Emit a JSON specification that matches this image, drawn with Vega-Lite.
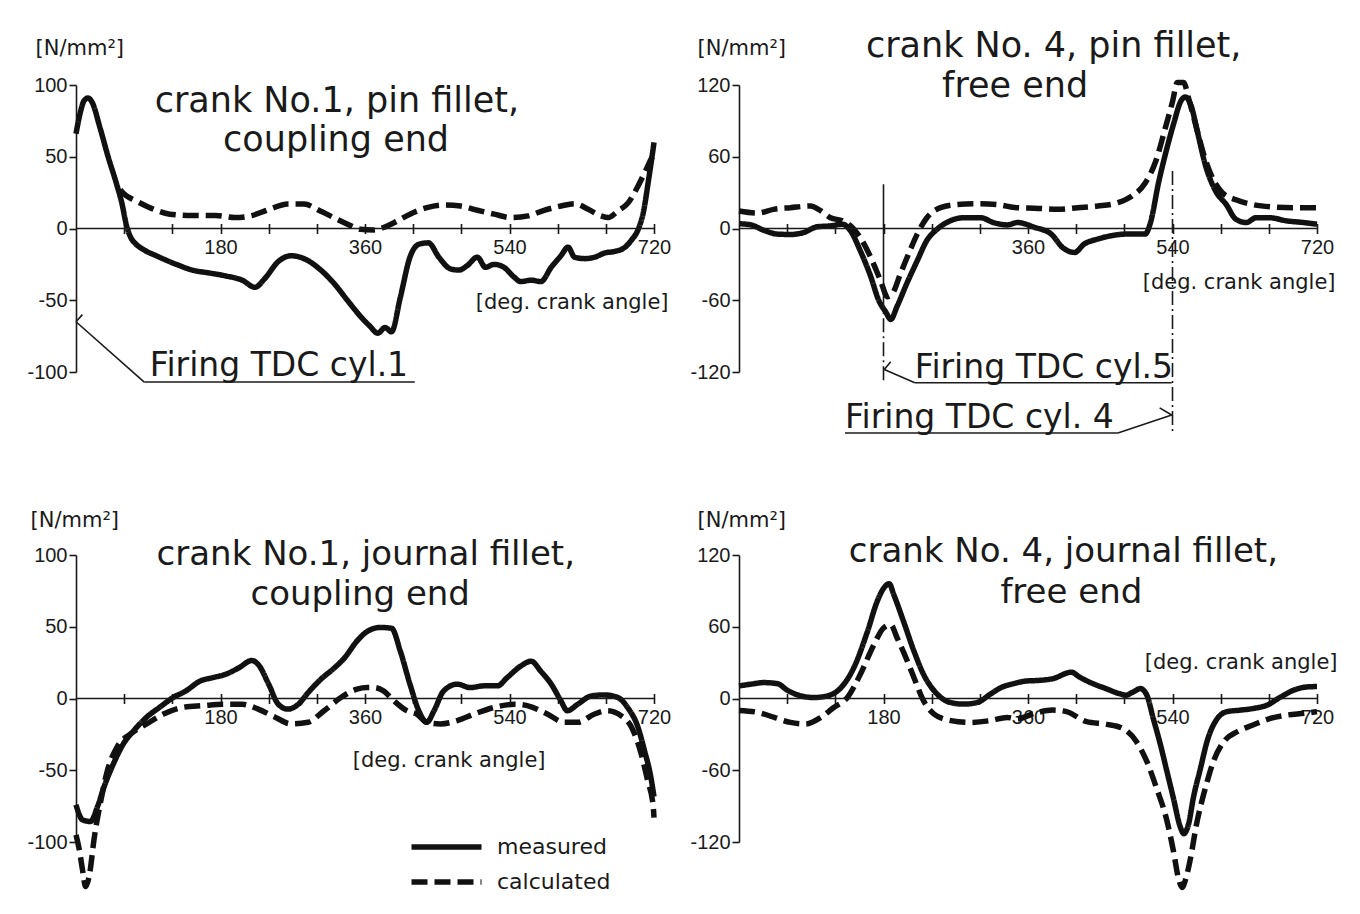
{
  "$schema": "https://vega.github.io/schema/vega-lite/v6.json",
  "background": "white",
  "autosize": {"type": "none"},
  "padding": {"left": 76, "top": 85, "right": 1284, "bottom": 829},
  "columns": 2,
  "spacing": {"row": 183, "column": 85},
  "bounds": "flush",
  "resolve": {"scale": {"strokeDash": "independent"}},
  "datasets": {
    "stress": [
      {"panel":"c1pin","series":"measured","angle":0,"stress":66},{"panel":"c1pin","series":"measured","angle":5,"stress":80},{"panel":"c1pin","series":"measured","angle":10,"stress":89},{"panel":"c1pin","series":"measured","angle":15,"stress":91},{"panel":"c1pin","series":"measured","angle":20,"stress":88},{"panel":"c1pin","series":"measured","angle":30,"stress":70},{"panel":"c1pin","series":"measured","angle":40,"stress":50},{"panel":"c1pin","series":"measured","angle":50,"stress":32},{"panel":"c1pin","series":"measured","angle":57,"stress":18},{"panel":"c1pin","series":"measured","angle":63,"stress":2},{"panel":"c1pin","series":"measured","angle":68,"stress":-6},{"panel":"c1pin","series":"measured","angle":75,"stress":-11},{"panel":"c1pin","series":"measured","angle":85,"stress":-15},{"panel":"c1pin","series":"measured","angle":100,"stress":-19},{"panel":"c1pin","series":"measured","angle":125,"stress":-25},{"panel":"c1pin","series":"measured","angle":145,"stress":-29},{"panel":"c1pin","series":"measured","angle":166,"stress":-31},{"panel":"c1pin","series":"measured","angle":186,"stress":-33},{"panel":"c1pin","series":"measured","angle":207,"stress":-36},{"panel":"c1pin","series":"measured","angle":223,"stress":-41},{"panel":"c1pin","series":"measured","angle":235,"stress":-35},{"panel":"c1pin","series":"measured","angle":252,"stress":-23},{"panel":"c1pin","series":"measured","angle":268,"stress":-19},{"panel":"c1pin","series":"measured","angle":284,"stress":-21},{"panel":"c1pin","series":"measured","angle":305,"stress":-29},{"panel":"c1pin","series":"measured","angle":321,"stress":-38},{"panel":"c1pin","series":"measured","angle":338,"stress":-50},{"panel":"c1pin","series":"measured","angle":354,"stress":-61},{"panel":"c1pin","series":"measured","angle":366,"stress":-68},{"panel":"c1pin","series":"measured","angle":376,"stress":-73},{"panel":"c1pin","series":"measured","angle":385,"stress":-69},{"panel":"c1pin","series":"measured","angle":393,"stress":-72},{"panel":"c1pin","series":"measured","angle":404,"stress":-48},{"panel":"c1pin","series":"measured","angle":416,"stress":-20},{"panel":"c1pin","series":"measured","angle":427,"stress":-11},{"panel":"c1pin","series":"measured","angle":439,"stress":-10},{"panel":"c1pin","series":"measured","angle":452,"stress":-20},{"panel":"c1pin","series":"measured","angle":466,"stress":-28},{"panel":"c1pin","series":"measured","angle":477,"stress":-29},{"panel":"c1pin","series":"measured","angle":487,"stress":-26},{"panel":"c1pin","series":"measured","angle":500,"stress":-20},{"panel":"c1pin","series":"measured","angle":510,"stress":-27},{"panel":"c1pin","series":"measured","angle":521,"stress":-25},{"panel":"c1pin","series":"measured","angle":533,"stress":-27},{"panel":"c1pin","series":"measured","angle":546,"stress":-34},{"panel":"c1pin","series":"measured","angle":554,"stress":-37},{"panel":"c1pin","series":"measured","angle":567,"stress":-36},{"panel":"c1pin","series":"measured","angle":579,"stress":-37},{"panel":"c1pin","series":"measured","angle":592,"stress":-27},{"panel":"c1pin","series":"measured","angle":604,"stress":-19},{"panel":"c1pin","series":"measured","angle":613,"stress":-13},{"panel":"c1pin","series":"measured","angle":621,"stress":-20},{"panel":"c1pin","series":"measured","angle":634,"stress":-21},{"panel":"c1pin","series":"measured","angle":646,"stress":-20},{"panel":"c1pin","series":"measured","angle":659,"stress":-17},{"panel":"c1pin","series":"measured","angle":671,"stress":-16},{"panel":"c1pin","series":"measured","angle":684,"stress":-13},{"panel":"c1pin","series":"measured","angle":692,"stress":-8},{"panel":"c1pin","series":"measured","angle":700,"stress":-1},{"panel":"c1pin","series":"measured","angle":707,"stress":12},{"panel":"c1pin","series":"measured","angle":713,"stress":33},{"panel":"c1pin","series":"measured","angle":717,"stress":48},{"panel":"c1pin","series":"measured","angle":720,"stress":60},
      {"panel":"c1pin","series":"calculated","angle":55,"stress":27},{"panel":"c1pin","series":"calculated","angle":62,"stress":23},{"panel":"c1pin","series":"calculated","angle":72,"stress":20},{"panel":"c1pin","series":"calculated","angle":92,"stress":14.5},{"panel":"c1pin","series":"calculated","angle":117,"stress":10},{"panel":"c1pin","series":"calculated","angle":145,"stress":9},{"panel":"c1pin","series":"calculated","angle":174,"stress":9},{"panel":"c1pin","series":"calculated","angle":198,"stress":7.6},{"panel":"c1pin","series":"calculated","angle":219,"stress":9},{"panel":"c1pin","series":"calculated","angle":239,"stress":13},{"panel":"c1pin","series":"calculated","angle":264,"stress":17},{"panel":"c1pin","series":"calculated","angle":284,"stress":17},{"panel":"c1pin","series":"calculated","angle":305,"stress":12},{"panel":"c1pin","series":"calculated","angle":325,"stress":6.5},{"panel":"c1pin","series":"calculated","angle":342,"stress":2},{"panel":"c1pin","series":"calculated","angle":354,"stress":-0.5},{"panel":"c1pin","series":"calculated","angle":371,"stress":-1},{"panel":"c1pin","series":"calculated","angle":383,"stress":0.7},{"panel":"c1pin","series":"calculated","angle":396,"stress":4},{"panel":"c1pin","series":"calculated","angle":416,"stress":10},{"panel":"c1pin","series":"calculated","angle":437,"stress":14.5},{"panel":"c1pin","series":"calculated","angle":458,"stress":16.4},{"panel":"c1pin","series":"calculated","angle":479,"stress":15.7},{"panel":"c1pin","series":"calculated","angle":500,"stress":12.7},{"panel":"c1pin","series":"calculated","angle":521,"stress":10},{"panel":"c1pin","series":"calculated","angle":542,"stress":7.6},{"panel":"c1pin","series":"calculated","angle":563,"stress":8.8},{"panel":"c1pin","series":"calculated","angle":583,"stress":12.7},{"panel":"c1pin","series":"calculated","angle":604,"stress":15.7},{"panel":"c1pin","series":"calculated","angle":621,"stress":17.3},{"panel":"c1pin","series":"calculated","angle":638,"stress":13.4},{"panel":"c1pin","series":"calculated","angle":654,"stress":8.8},{"panel":"c1pin","series":"calculated","angle":663,"stress":7.6},{"panel":"c1pin","series":"calculated","angle":675,"stress":12.2},{"panel":"c1pin","series":"calculated","angle":688,"stress":18},{"panel":"c1pin","series":"calculated","angle":700,"stress":29.5},{"panel":"c1pin","series":"calculated","angle":711,"stress":42},{"panel":"c1pin","series":"calculated","angle":717,"stress":49},{"panel":"c1pin","series":"calculated","angle":720,"stress":51},

      {"panel":"c4pin","series":"measured","angle":0,"stress":4},{"panel":"c4pin","series":"measured","angle":15,"stress":3},{"panel":"c4pin","series":"measured","angle":31,"stress":-1.5},{"panel":"c4pin","series":"measured","angle":48,"stress":-4.7},{"panel":"c4pin","series":"measured","angle":64,"stress":-5},{"panel":"c4pin","series":"measured","angle":81,"stress":-3.3},{"panel":"c4pin","series":"measured","angle":97,"stress":1.4},{"panel":"c4pin","series":"measured","angle":114,"stress":2.2},{"panel":"c4pin","series":"measured","angle":129,"stress":3.6},{"panel":"c4pin","series":"measured","angle":139,"stress":-2},{"panel":"c4pin","series":"measured","angle":151,"stress":-18.5},{"panel":"c4pin","series":"measured","angle":164,"stress":-40},{"panel":"c4pin","series":"measured","angle":174,"stress":-60},{"panel":"c4pin","series":"measured","angle":183,"stress":-70},{"panel":"c4pin","series":"measured","angle":189,"stress":-76},{"panel":"c4pin","series":"measured","angle":197,"stress":-65},{"panel":"c4pin","series":"measured","angle":209,"stress":-46},{"panel":"c4pin","series":"measured","angle":222,"stress":-27},{"panel":"c4pin","series":"measured","angle":234,"stress":-10},{"panel":"c4pin","series":"measured","angle":247,"stress":-0.5},{"panel":"c4pin","series":"measured","angle":263,"stress":6.4},{"panel":"c4pin","series":"measured","angle":280,"stress":9},{"panel":"c4pin","series":"measured","angle":301,"stress":9},{"panel":"c4pin","series":"measured","angle":317,"stress":5},{"panel":"c4pin","series":"measured","angle":334,"stress":3},{"panel":"c4pin","series":"measured","angle":347,"stress":5},{"panel":"c4pin","series":"measured","angle":368,"stress":1},{"panel":"c4pin","series":"measured","angle":389,"stress":-4.7},{"panel":"c4pin","series":"measured","angle":403,"stress":-15.8},{"panel":"c4pin","series":"measured","angle":418,"stress":-20},{"panel":"c4pin","series":"measured","angle":430,"stress":-13},{"panel":"c4pin","series":"measured","angle":447,"stress":-8.8},{"panel":"c4pin","series":"measured","angle":464,"stress":-6},{"panel":"c4pin","series":"measured","angle":481,"stress":-4.7},{"panel":"c4pin","series":"measured","angle":506,"stress":-4.7},{"panel":"c4pin","series":"measured","angle":512,"stress":3.6},{"panel":"c4pin","series":"measured","angle":523,"stress":39.5},{"panel":"c4pin","series":"measured","angle":533,"stress":67},{"panel":"c4pin","series":"measured","angle":542,"stress":89},{"panel":"c4pin","series":"measured","angle":550,"stress":106},{"panel":"c4pin","series":"measured","angle":556,"stress":110},{"panel":"c4pin","series":"measured","angle":563,"stress":103},{"panel":"c4pin","series":"measured","angle":571,"stress":81},{"panel":"c4pin","series":"measured","angle":581,"stress":53},{"panel":"c4pin","series":"measured","angle":594,"stress":31},{"panel":"c4pin","series":"measured","angle":607,"stress":20},{"panel":"c4pin","series":"measured","angle":619,"stress":7.7},{"panel":"c4pin","series":"measured","angle":632,"stress":5},{"panel":"c4pin","series":"measured","angle":644,"stress":9},{"panel":"c4pin","series":"measured","angle":661,"stress":9},{"panel":"c4pin","series":"measured","angle":682,"stress":6.4},{"panel":"c4pin","series":"measured","angle":703,"stress":5},{"panel":"c4pin","series":"measured","angle":720,"stress":3.6},
      {"panel":"c4pin","series":"calculated","angle":0,"stress":14.7},{"panel":"c4pin","series":"calculated","angle":23,"stress":13},{"panel":"c4pin","series":"calculated","angle":43,"stress":16},{"panel":"c4pin","series":"calculated","angle":64,"stress":17.4},{"panel":"c4pin","series":"calculated","angle":89,"stress":18.8},{"panel":"c4pin","series":"calculated","angle":102,"stress":14.7},{"panel":"c4pin","series":"calculated","angle":114,"stress":9},{"panel":"c4pin","series":"calculated","angle":129,"stress":6.4},{"panel":"c4pin","series":"calculated","angle":139,"stress":2.2},{"panel":"c4pin","series":"calculated","angle":151,"stress":-7.5},{"panel":"c4pin","series":"calculated","angle":164,"stress":-24},{"panel":"c4pin","series":"calculated","angle":176,"stress":-43},{"panel":"c4pin","series":"calculated","angle":185,"stress":-57},{"panel":"c4pin","series":"calculated","angle":191,"stress":-54.5},{"panel":"c4pin","series":"calculated","angle":201,"stress":-38},{"panel":"c4pin","series":"calculated","angle":212,"stress":-20},{"panel":"c4pin","series":"calculated","angle":222,"stress":-4.7},{"panel":"c4pin","series":"calculated","angle":234,"stress":9},{"panel":"c4pin","series":"calculated","angle":251,"stress":17.4},{"panel":"c4pin","series":"calculated","angle":272,"stress":20},{"panel":"c4pin","series":"calculated","angle":297,"stress":20.7},{"panel":"c4pin","series":"calculated","angle":322,"stress":20},{"panel":"c4pin","series":"calculated","angle":346,"stress":17.4},{"panel":"c4pin","series":"calculated","angle":368,"stress":17},{"panel":"c4pin","series":"calculated","angle":397,"stress":16},{"panel":"c4pin","series":"calculated","angle":422,"stress":17.4},{"panel":"c4pin","series":"calculated","angle":447,"stress":18.8},{"panel":"c4pin","series":"calculated","angle":472,"stress":21.6},{"panel":"c4pin","series":"calculated","angle":489,"stress":27},{"panel":"c4pin","series":"calculated","angle":506,"stress":38},{"panel":"c4pin","series":"calculated","angle":519,"stress":56},{"panel":"c4pin","series":"calculated","angle":531,"stress":84},{"panel":"c4pin","series":"calculated","angle":540,"stress":106},{"panel":"c4pin","series":"calculated","angle":546,"stress":122},{"panel":"c4pin","series":"calculated","angle":554,"stress":122},{"panel":"c4pin","series":"calculated","angle":560,"stress":109},{"panel":"c4pin","series":"calculated","angle":569,"stress":86.5},{"panel":"c4pin","series":"calculated","angle":579,"stress":61.7},{"panel":"c4pin","series":"calculated","angle":590,"stress":42},{"panel":"c4pin","series":"calculated","angle":602,"stress":30},{"panel":"c4pin","series":"calculated","angle":619,"stress":24},{"panel":"c4pin","series":"calculated","angle":640,"stress":20},{"panel":"c4pin","series":"calculated","angle":665,"stress":18},{"panel":"c4pin","series":"calculated","angle":690,"stress":17.4},{"panel":"c4pin","series":"calculated","angle":720,"stress":17.4},

      {"panel":"c1jrn","series":"measured","angle":0,"stress":-74},{"panel":"c1jrn","series":"measured","angle":8,"stress":-84.5},{"panel":"c1jrn","series":"measured","angle":18,"stress":-85.7},{"panel":"c1jrn","series":"measured","angle":27,"stress":-75},{"panel":"c1jrn","series":"measured","angle":35,"stress":-61.5},{"panel":"c1jrn","series":"measured","angle":47,"stress":-45},{"panel":"c1jrn","series":"measured","angle":59,"stress":-31.6},{"panel":"c1jrn","series":"measured","angle":72,"stress":-22.4},{"panel":"c1jrn","series":"measured","angle":88,"stress":-13},{"panel":"c1jrn","series":"measured","angle":104,"stress":-6.2},{"panel":"c1jrn","series":"measured","angle":121,"stress":0.7},{"panel":"c1jrn","series":"measured","angle":137,"stress":5.3},{"panel":"c1jrn","series":"measured","angle":154,"stress":12},{"panel":"c1jrn","series":"measured","angle":170,"stress":14.5},{"panel":"c1jrn","series":"measured","angle":186,"stress":16.8},{"panel":"c1jrn","series":"measured","angle":203,"stress":21.4},{"panel":"c1jrn","series":"measured","angle":219,"stress":26.5},{"panel":"c1jrn","series":"measured","angle":227,"stress":23.7},{"panel":"c1jrn","series":"measured","angle":240,"stress":10},{"panel":"c1jrn","series":"measured","angle":252,"stress":-4},{"panel":"c1jrn","series":"measured","angle":264,"stress":-7.4},{"panel":"c1jrn","series":"measured","angle":277,"stress":-4},{"panel":"c1jrn","series":"measured","angle":289,"stress":4},{"panel":"c1jrn","series":"measured","angle":305,"stress":13.4},{"panel":"c1jrn","series":"measured","angle":322,"stress":21.4},{"panel":"c1jrn","series":"measured","angle":334,"stress":28},{"panel":"c1jrn","series":"measured","angle":350,"stress":40},{"panel":"c1jrn","series":"measured","angle":363,"stress":46.8},{"panel":"c1jrn","series":"measured","angle":379,"stress":49.5},{"panel":"c1jrn","series":"measured","angle":393,"stress":49},{"panel":"c1jrn","series":"measured","angle":404,"stress":33},{"panel":"c1jrn","series":"measured","angle":416,"stress":10},{"panel":"c1jrn","series":"measured","angle":427,"stress":-8.5},{"panel":"c1jrn","series":"measured","angle":437,"stress":-16.6},{"panel":"c1jrn","series":"measured","angle":446,"stress":-8.5},{"panel":"c1jrn","series":"measured","angle":458,"stress":5.3},{"panel":"c1jrn","series":"measured","angle":475,"stress":10},{"panel":"c1jrn","series":"measured","angle":491,"stress":7.6},{"panel":"c1jrn","series":"measured","angle":508,"stress":8.8},{"panel":"c1jrn","series":"measured","angle":525,"stress":8.8},{"panel":"c1jrn","series":"measured","angle":537,"stress":14.5},{"panel":"c1jrn","series":"measured","angle":554,"stress":22.6},{"panel":"c1jrn","series":"measured","angle":567,"stress":26},{"panel":"c1jrn","series":"measured","angle":579,"stress":19},{"panel":"c1jrn","series":"measured","angle":592,"stress":10},{"panel":"c1jrn","series":"measured","angle":604,"stress":-1.6},{"panel":"c1jrn","series":"measured","angle":612,"stress":-8.5},{"panel":"c1jrn","series":"measured","angle":625,"stress":-4},{"panel":"c1jrn","series":"measured","angle":642,"stress":1.8},{"panel":"c1jrn","series":"measured","angle":658,"stress":2.5},{"panel":"c1jrn","series":"measured","angle":675,"stress":0.7},{"panel":"c1jrn","series":"measured","angle":687,"stress":-6.2},{"panel":"c1jrn","series":"measured","angle":700,"stress":-20},{"panel":"c1jrn","series":"measured","angle":708,"stress":-36},{"panel":"c1jrn","series":"measured","angle":716,"stress":-54.6},{"panel":"c1jrn","series":"measured","angle":720,"stress":-68.4},
      {"panel":"c1jrn","series":"calculated","angle":0,"stress":-95},{"panel":"c1jrn","series":"calculated","angle":4,"stress":-105},{"panel":"c1jrn","series":"calculated","angle":8,"stress":-119},{"panel":"c1jrn","series":"calculated","angle":12,"stress":-131},{"panel":"c1jrn","series":"calculated","angle":17,"stress":-122},{"panel":"c1jrn","series":"calculated","angle":22.5,"stress":-98},{"panel":"c1jrn","series":"calculated","angle":31,"stress":-71},{"panel":"c1jrn","series":"calculated","angle":39,"stress":-50.5},{"panel":"c1jrn","series":"calculated","angle":51,"stress":-34},{"panel":"c1jrn","series":"calculated","angle":68,"stress":-24.6},{"panel":"c1jrn","series":"calculated","angle":88,"stress":-17.7},{"panel":"c1jrn","series":"calculated","angle":109,"stress":-10.8},{"panel":"c1jrn","series":"calculated","angle":133,"stress":-6.2},{"panel":"c1jrn","series":"calculated","angle":158,"stress":-5},{"panel":"c1jrn","series":"calculated","angle":186,"stress":-4},{"panel":"c1jrn","series":"calculated","angle":207,"stress":-4},{"panel":"c1jrn","series":"calculated","angle":227,"stress":-7.4},{"panel":"c1jrn","series":"calculated","angle":248,"stress":-13},{"panel":"c1jrn","series":"calculated","angle":268,"stress":-17.7},{"panel":"c1jrn","series":"calculated","angle":289,"stress":-16.6},{"panel":"c1jrn","series":"calculated","angle":309,"stress":-8.5},{"panel":"c1jrn","series":"calculated","angle":330,"stress":0.7},{"panel":"c1jrn","series":"calculated","angle":350,"stress":6.5},{"panel":"c1jrn","series":"calculated","angle":363,"stress":7.6},{"panel":"c1jrn","series":"calculated","angle":371,"stress":7.6},{"panel":"c1jrn","series":"calculated","angle":383,"stress":5.3},{"panel":"c1jrn","series":"calculated","angle":396,"stress":-1.6},{"panel":"c1jrn","series":"calculated","angle":412,"stress":-8.5},{"panel":"c1jrn","series":"calculated","angle":425,"stress":-11},{"panel":"c1jrn","series":"calculated","angle":437,"stress":-16.6},{"panel":"c1jrn","series":"calculated","angle":454,"stress":-17.7},{"panel":"c1jrn","series":"calculated","angle":475,"stress":-15.4},{"panel":"c1jrn","series":"calculated","angle":496,"stress":-10.8},{"panel":"c1jrn","series":"calculated","angle":521,"stress":-6.2},{"panel":"c1jrn","series":"calculated","angle":546,"stress":-4},{"panel":"c1jrn","series":"calculated","angle":562,"stress":-5},{"panel":"c1jrn","series":"calculated","angle":587,"stress":-10.8},{"panel":"c1jrn","series":"calculated","angle":608,"stress":-16.6},{"panel":"c1jrn","series":"calculated","angle":625,"stress":-16.6},{"panel":"c1jrn","series":"calculated","angle":646,"stress":-10.8},{"panel":"c1jrn","series":"calculated","angle":662,"stress":-8.5},{"panel":"c1jrn","series":"calculated","angle":679,"stress":-12},{"panel":"c1jrn","series":"calculated","angle":692,"stress":-20},{"panel":"c1jrn","series":"calculated","angle":704,"stress":-38.5},{"panel":"c1jrn","series":"calculated","angle":712,"stress":-57},{"panel":"c1jrn","series":"calculated","angle":719,"stress":-75},{"panel":"c1jrn","series":"calculated","angle":720,"stress":-83},

      {"panel":"c4jrn","series":"measured","angle":0,"stress":10.5},{"panel":"c4jrn","series":"measured","angle":15,"stress":12},{"panel":"c4jrn","series":"measured","angle":31,"stress":13.3},{"panel":"c4jrn","series":"measured","angle":48,"stress":12.4},{"panel":"c4jrn","series":"measured","angle":60,"stress":7},{"panel":"c4jrn","series":"measured","angle":77,"stress":2.2},{"panel":"c4jrn","series":"measured","angle":93,"stress":0.8},{"panel":"c4jrn","series":"measured","angle":110,"stress":2.2},{"panel":"c4jrn","series":"measured","angle":127,"stress":9},{"panel":"c4jrn","series":"measured","angle":143,"stress":25.7},{"panel":"c4jrn","series":"measured","angle":160,"stress":56},{"panel":"c4jrn","series":"measured","angle":172,"stress":81},{"panel":"c4jrn","series":"measured","angle":180,"stress":92},{"panel":"c4jrn","series":"measured","angle":187,"stress":96},{"panel":"c4jrn","series":"measured","angle":193,"stress":86.5},{"panel":"c4jrn","series":"measured","angle":205,"stress":64.4},{"panel":"c4jrn","series":"measured","angle":218,"stress":39.5},{"panel":"c4jrn","series":"measured","angle":230,"stress":20},{"panel":"c4jrn","series":"measured","angle":247,"stress":3.6},{"panel":"c4jrn","series":"measured","angle":263,"stress":-3.3},{"panel":"c4jrn","series":"measured","angle":280,"stress":-4.7},{"panel":"c4jrn","series":"measured","angle":297,"stress":-3.3},{"panel":"c4jrn","series":"measured","angle":313,"stress":3.6},{"panel":"c4jrn","series":"measured","angle":326,"stress":9},{"panel":"c4jrn","series":"measured","angle":342,"stress":12.4},{"panel":"c4jrn","series":"measured","angle":359,"stress":14.7},{"panel":"c4jrn","series":"measured","angle":370,"stress":15},{"panel":"c4jrn","series":"measured","angle":391,"stress":16.6},{"panel":"c4jrn","series":"measured","angle":414,"stress":22},{"panel":"c4jrn","series":"measured","angle":424,"stress":18},{"panel":"c4jrn","series":"measured","angle":441,"stress":12.4},{"panel":"c4jrn","series":"measured","angle":457,"stress":8.3},{"panel":"c4jrn","series":"measured","angle":474,"stress":4},{"panel":"c4jrn","series":"measured","angle":482,"stress":2.8},{"panel":"c4jrn","series":"measured","angle":491,"stress":5.5},{"panel":"c4jrn","series":"measured","angle":500,"stress":8.3},{"panel":"c4jrn","series":"measured","angle":508,"stress":2.8},{"panel":"c4jrn","series":"measured","angle":516,"stress":-16.6},{"panel":"c4jrn","series":"measured","angle":525,"stress":-38.7},{"panel":"c4jrn","series":"measured","angle":533,"stress":-60.8},{"panel":"c4jrn","series":"measured","angle":541,"stress":-83},{"panel":"c4jrn","series":"measured","angle":550,"stress":-108},{"panel":"c4jrn","series":"measured","angle":554,"stress":-113},{"panel":"c4jrn","series":"measured","angle":560,"stress":-105},{"panel":"c4jrn","series":"measured","angle":566,"stress":-83},{"panel":"c4jrn","series":"measured","angle":575,"stress":-58},{"panel":"c4jrn","series":"measured","angle":583,"stress":-36},{"panel":"c4jrn","series":"measured","angle":596,"stress":-16.6},{"panel":"c4jrn","series":"measured","angle":608,"stress":-11},{"panel":"c4jrn","series":"measured","angle":625,"stress":-9.7},{"panel":"c4jrn","series":"measured","angle":641,"stress":-8.3},{"panel":"c4jrn","series":"measured","angle":658,"stress":-5.5},{"panel":"c4jrn","series":"measured","angle":675,"stress":1.4},{"panel":"c4jrn","series":"measured","angle":691,"stress":7},{"panel":"c4jrn","series":"measured","angle":708,"stress":9.7},{"panel":"c4jrn","series":"measured","angle":720,"stress":10},
      {"panel":"c4jrn","series":"calculated","angle":0,"stress":-10},{"panel":"c4jrn","series":"calculated","angle":23,"stress":-11.6},{"panel":"c4jrn","series":"calculated","angle":44,"stress":-15.8},{"panel":"c4jrn","series":"calculated","angle":64,"stress":-20},{"panel":"c4jrn","series":"calculated","angle":83,"stress":-21.3},{"panel":"c4jrn","series":"calculated","angle":102,"stress":-15.8},{"panel":"c4jrn","series":"calculated","angle":118,"stress":-7.5},{"panel":"c4jrn","series":"calculated","angle":135,"stress":0.8},{"panel":"c4jrn","series":"calculated","angle":151,"stress":20},{"panel":"c4jrn","series":"calculated","angle":168,"stress":45},{"panel":"c4jrn","series":"calculated","angle":180,"stress":59},{"panel":"c4jrn","series":"calculated","angle":189,"stress":61.7},{"panel":"c4jrn","series":"calculated","angle":197,"stress":50.6},{"panel":"c4jrn","series":"calculated","angle":208,"stress":34},{"panel":"c4jrn","series":"calculated","angle":218,"stress":17.4},{"panel":"c4jrn","series":"calculated","angle":230,"stress":-2},{"panel":"c4jrn","series":"calculated","angle":243,"stress":-13},{"panel":"c4jrn","series":"calculated","angle":264,"stress":-18.5},{"panel":"c4jrn","series":"calculated","angle":288,"stress":-20},{"panel":"c4jrn","series":"calculated","angle":313,"stress":-18.5},{"panel":"c4jrn","series":"calculated","angle":334,"stress":-15.8},{"panel":"c4jrn","series":"calculated","angle":346,"stress":-17},{"panel":"c4jrn","series":"calculated","angle":370,"stress":-12},{"panel":"c4jrn","series":"calculated","angle":391,"stress":-9.7},{"panel":"c4jrn","series":"calculated","angle":408,"stress":-11},{"panel":"c4jrn","series":"calculated","angle":433,"stress":-19.4},{"panel":"c4jrn","series":"calculated","angle":458,"stress":-21.6},{"panel":"c4jrn","series":"calculated","angle":478,"stress":-25},{"panel":"c4jrn","series":"calculated","angle":495,"stress":-36},{"panel":"c4jrn","series":"calculated","angle":508,"stress":-52.6},{"panel":"c4jrn","series":"calculated","angle":520,"stress":-74.7},{"panel":"c4jrn","series":"calculated","angle":533,"stress":-102},{"panel":"c4jrn","series":"calculated","angle":541,"stress":-127},{"panel":"c4jrn","series":"calculated","angle":548,"stress":-152},{"panel":"c4jrn","series":"calculated","angle":552,"stress":-158},{"panel":"c4jrn","series":"calculated","angle":556,"stress":-152},{"panel":"c4jrn","series":"calculated","angle":562,"stress":-135},{"panel":"c4jrn","series":"calculated","angle":570,"stress":-105},{"panel":"c4jrn","series":"calculated","angle":581,"stress":-74.7},{"panel":"c4jrn","series":"calculated","angle":591,"stress":-52.6},{"panel":"c4jrn","series":"calculated","angle":604,"stress":-36},{"panel":"c4jrn","series":"calculated","angle":621,"stress":-27.6},{"panel":"c4jrn","series":"calculated","angle":641,"stress":-22},{"panel":"c4jrn","series":"calculated","angle":662,"stress":-16.6},{"panel":"c4jrn","series":"calculated","angle":683,"stress":-13.8},{"panel":"c4jrn","series":"calculated","angle":704,"stress":-12.4},{"panel":"c4jrn","series":"calculated","angle":720,"stress":-11}
    ]
  },
  "concat": [
    {
      "width": 578,
      "height": 287,
      "layer": [
        {
          "data": {"name": "stress"},
          "transform": [{"filter": "datum.panel === 'c1pin'"}],
          "mark": {"type": "line", "interpolate": "monotone", "strokeJoin": "round"},
          "encoding": {
            "x": {"field": "angle", "type": "quantitative", "scale": {"domain": [0, 720], "nice": false, "zero": false},
                  "axis": {"offset": -148.5, "values": [60,120,180,240,300,360,420,480,540,600,660,720], "labelExpr": "datum.value % 180 === 0 ? datum.label : ''", "title": "[deg. crank angle]", "titleX": 592, "titleY": 78.5}},
            "y": {"field": "stress", "type": "quantitative", "scale": {"domain": [-100, 100], "nice": false},
                  "axis": {"values": [-100,-50,0,50,100], "labelExpr": "datum.value < 0 ? '-' + abs(datum.value) : '' + datum.value", "title": "[N/mm²]", "titleX": -41, "titleY": -37}},
            "strokeDash": {"field": "series", "type": "nominal", "scale": {"domain": ["measured", "calculated"], "range": [[1, 0], [16, 7]]}, "legend": null}
          }
        },
        {"data": {"values": [{}]}, "mark": {"type": "rule"}, "encoding": {"x": {"datum": 0}, "x2": {"datum": 720}, "y": {"datum": 0}}},
        {"data": {"values": [{}]}, "mark": {"type": "text", "text": "crank No.1, pin fillet,", "fontSize": 35, "align": "center", "baseline": "alphabetic"}, "encoding": {"x": {"datum": 325}, "y": {"datum": 81}}},
        {"data": {"values": [{}]}, "mark": {"type": "text", "text": "coupling end", "fontSize": 35, "align": "center", "baseline": "alphabetic"}, "encoding": {"x": {"datum": 324}, "y": {"datum": 54}}},
        {"data": {"values": [{}]}, "mark": {"type": "rule"}, "encoding": {"x": {"datum": 0}, "x2": {"datum": 8}, "y": {"datum": -65}, "y2": {"datum": -60}}},
        {"data": {"values": [{}]}, "mark": {"type": "rule"}, "encoding": {"x": {"datum": 0}, "x2": {"datum": 85}, "y": {"datum": -65}, "y2": {"datum": -107}}},
        {"data": {"values": [{}]}, "mark": {"type": "rule"}, "encoding": {"x": {"datum": 85}, "x2": {"datum": 422}, "y": {"datum": -107}, "y2": {"datum": -107}}},
        {"data": {"values": [{}]}, "mark": {"type": "text", "text": "Firing TDC cyl.1", "fontSize": 33, "align": "left", "baseline": "alphabetic"}, "encoding": {"x": {"datum": 92}, "y": {"datum": -102.5}}}
      ]
    },
    {
      "width": 578,
      "height": 287,
      "layer": [
        {
          "data": {"name": "stress"},
          "transform": [{"filter": "datum.panel === 'c4pin'"}],
          "mark": {"type": "line", "interpolate": "monotone", "strokeJoin": "round"},
          "encoding": {
            "x": {"field": "angle", "type": "quantitative", "scale": {"domain": [0, 720], "nice": false, "zero": false},
                  "axis": {"offset": -148.5, "values": [60,120,180,240,300,360,420,480,540,600,660,720], "labelExpr": "datum.value % 180 === 0 && datum.value > 180 ? datum.label : ''", "title": "[deg. crank angle]", "titleX": 596, "titleY": 58.5}},
            "y": {"field": "stress", "type": "quantitative", "scale": {"domain": [-120, 120], "nice": false},
                  "axis": {"values": [-120,-60,0,60,120], "labelExpr": "datum.value < 0 ? '-' + abs(datum.value) : '' + datum.value", "title": "[N/mm²]", "titleX": -42, "titleY": -37}},
            "strokeDash": {"field": "series", "type": "nominal", "scale": {"domain": ["measured", "calculated"], "range": [[1, 0], [16, 7]]}, "legend": null}
          }
        },
        {"data": {"values": [{}]}, "mark": {"type": "rule"}, "encoding": {"x": {"datum": 0}, "x2": {"datum": 720}, "y": {"datum": 0}}},
        {"data": {"values": [{}]}, "mark": {"type": "text", "text": "crank No. 4, pin fillet,", "fontSize": 35, "align": "center", "baseline": "alphabetic"}, "encoding": {"x": {"datum": 392}, "y": {"datum": 143}}},
        {"data": {"values": [{}]}, "mark": {"type": "text", "text": "free end", "fontSize": 35, "align": "center", "baseline": "alphabetic"}, "encoding": {"x": {"datum": 344}, "y": {"datum": 110}}},
        {"data": {"values": [{}]}, "mark": {"type": "rule"}, "encoding": {"x": {"datum": 180}, "y": {"datum": 37}, "y2": {"datum": -55}}},
        {"data": {"values": [{}]}, "mark": {"type": "rule", "strokeDash": [14, 4, 2, 4]}, "encoding": {"x": {"datum": 180}, "y": {"datum": -55}, "y2": {"datum": -128}}},
        {"data": {"values": [{}]}, "mark": {"type": "rule", "strokeDash": [14, 4, 2, 4]}, "encoding": {"x": {"datum": 540}, "y": {"datum": 48}, "y2": {"datum": -172}}},
        {"data": {"values": [{}]}, "mark": {"type": "rule"}, "encoding": {"x": {"datum": 181}, "x2": {"datum": 189}, "y": {"datum": -118}, "y2": {"datum": -111.5}}},
        {"data": {"values": [{}]}, "mark": {"type": "rule"}, "encoding": {"x": {"datum": 181}, "x2": {"datum": 219}, "y": {"datum": -118}, "y2": {"datum": -129}}},
        {"data": {"values": [{}]}, "mark": {"type": "rule"}, "encoding": {"x": {"datum": 219}, "x2": {"datum": 539}, "y": {"datum": -129}, "y2": {"datum": -129}}},
        {"data": {"values": [{}]}, "mark": {"type": "text", "text": "Firing TDC cyl.5", "fontSize": 33, "align": "left", "baseline": "alphabetic"}, "encoding": {"x": {"datum": 219}, "y": {"datum": -125}}},
        {"data": {"values": [{}]}, "mark": {"type": "rule"}, "encoding": {"x": {"datum": 539}, "x2": {"datum": 524}, "y": {"datum": -156}, "y2": {"datum": -150}}},
        {"data": {"values": [{}]}, "mark": {"type": "rule"}, "encoding": {"x": {"datum": 539}, "x2": {"datum": 472}, "y": {"datum": -156}, "y2": {"datum": -171}}},
        {"data": {"values": [{}]}, "mark": {"type": "rule"}, "encoding": {"x": {"datum": 472}, "x2": {"datum": 132}, "y": {"datum": -171}, "y2": {"datum": -171}}},
        {"data": {"values": [{}]}, "mark": {"type": "text", "text": "Firing TDC cyl. 4", "fontSize": 33, "align": "left", "baseline": "alphabetic"}, "encoding": {"x": {"datum": 132}, "y": {"datum": -166.5}}}
      ]
    },
    {
      "width": 578,
      "height": 287,
      "layer": [
        {
          "data": {"name": "stress"},
          "transform": [{"filter": "datum.panel === 'c1jrn'"}],
          "mark": {"type": "line", "interpolate": "monotone", "strokeJoin": "round"},
          "encoding": {
            "x": {"field": "angle", "type": "quantitative", "scale": {"domain": [0, 720], "nice": false, "zero": false},
                  "axis": {"offset": -148.5, "values": [60,120,180,240,300,360,420,480,540,600,660,720], "labelExpr": "datum.value % 180 === 0 ? datum.label : ''", "title": "[deg. crank angle]", "titleX": 469, "titleY": 66.5}},
            "y": {"field": "stress", "type": "quantitative", "scale": {"domain": [-100, 100], "nice": false},
                  "axis": {"values": [-100,-50,0,50,100], "labelExpr": "datum.value < 0 ? '-' + abs(datum.value) : '' + datum.value", "title": "[N/mm²]", "titleX": -46, "titleY": -35}},
            "strokeDash": {"field": "series", "type": "nominal", "scale": {"domain": ["measured", "calculated"], "range": [[1, 0], [16, 7]]},
                           "legend": {"orient": "none", "legendX": 359.5, "legendY": 281, "title": null, "padding": 0, "symbolType": "M-5,0H5", "symbolSize": 196, "symbolStrokeWidth": 5.5, "symbolStrokeColor": "#111111", "labelFont": "DejaVu Sans", "labelFontSize": 22, "labelColor": "#1a1a1a", "labelOffset": 39.5, "rowPadding": 13}}
          }
        },
        {"data": {"values": [{}]}, "mark": {"type": "rule"}, "encoding": {"x": {"datum": 0}, "x2": {"datum": 720}, "y": {"datum": 0}}},
        {"data": {"values": [{}]}, "mark": {"type": "text", "text": "crank No.1, journal fillet,", "fontSize": 34, "align": "center", "baseline": "alphabetic"}, "encoding": {"x": {"datum": 361}, "y": {"datum": 93}}},
        {"data": {"values": [{}]}, "mark": {"type": "text", "text": "coupling end", "fontSize": 34, "align": "center", "baseline": "alphabetic"}, "encoding": {"x": {"datum": 354}, "y": {"datum": 65}}}
      ]
    },
    {
      "width": 578,
      "height": 287,
      "layer": [
        {
          "data": {"name": "stress"},
          "transform": [{"filter": "datum.panel === 'c4jrn'"}],
          "mark": {"type": "line", "interpolate": "monotone", "strokeJoin": "round"},
          "encoding": {
            "x": {"field": "angle", "type": "quantitative", "scale": {"domain": [0, 720], "nice": false, "zero": false},
                  "axis": {"offset": -148.5, "values": [60,120,180,240,300,360,420,480,540,600,660,720], "labelExpr": "datum.value % 180 === 0 ? datum.label : ''", "title": "[deg. crank angle]", "titleX": 598, "titleY": -31.5}},
            "y": {"field": "stress", "type": "quantitative", "scale": {"domain": [-120, 120], "nice": false},
                  "axis": {"values": [-120,-60,0,60,120], "labelExpr": "datum.value < 0 ? '-' + abs(datum.value) : '' + datum.value", "title": "[N/mm²]", "titleX": -42, "titleY": -35}},
            "strokeDash": {"field": "series", "type": "nominal", "scale": {"domain": ["measured", "calculated"], "range": [[1, 0], [16, 7]]}, "legend": null}
          }
        },
        {"data": {"values": [{}]}, "mark": {"type": "rule"}, "encoding": {"x": {"datum": 0}, "x2": {"datum": 720}, "y": {"datum": 0}}},
        {"data": {"values": [{}]}, "mark": {"type": "text", "text": "crank No. 4, journal fillet,", "fontSize": 34, "align": "center", "baseline": "alphabetic"}, "encoding": {"x": {"datum": 404}, "y": {"datum": 114}}},
        {"data": {"values": [{}]}, "mark": {"type": "text", "text": "free end", "fontSize": 34, "align": "center", "baseline": "alphabetic"}, "encoding": {"x": {"datum": 414}, "y": {"datum": 80}}}
      ]
    }
  ],
  "config": {
    "view": {"stroke": null},
    "font": "DejaVu Sans",
    "axis": {
      "grid": false,
      "domainColor": "#1a1a1a", "domainWidth": 1.6,
      "tickColor": "#1a1a1a", "tickWidth": 1.6,
      "labelColor": "#1a1a1a", "labelFont": "Liberation Sans", "labelFontSize": 20,
      "titleColor": "#1a1a1a", "titleFont": "DejaVu Sans", "titleFontSize": 21, "titleFontWeight": "normal"
    },
    "axisX": {"domain": false, "tickSize": 10, "labelPadding": 4, "labelFlush": false, "labelOverlap": false, "titleAlign": "right", "titleBaseline": "middle", "titleAnchor": "start"},
    "axisY": {"tickSize": 7, "labelPadding": 2, "labelBaseline": "middle", "labelOverlap": false, "titleAngle": 0, "titleAlign": "left", "titleBaseline": "middle", "titleAnchor": "start"},
    "text": {"color": "#1a1a1a", "font": "DejaVu Sans"},
    "rule": {"color": "#1a1a1a", "strokeWidth": 1.6},
    "line": {"color": "#111111", "strokeWidth": 5.5}
  }
}
